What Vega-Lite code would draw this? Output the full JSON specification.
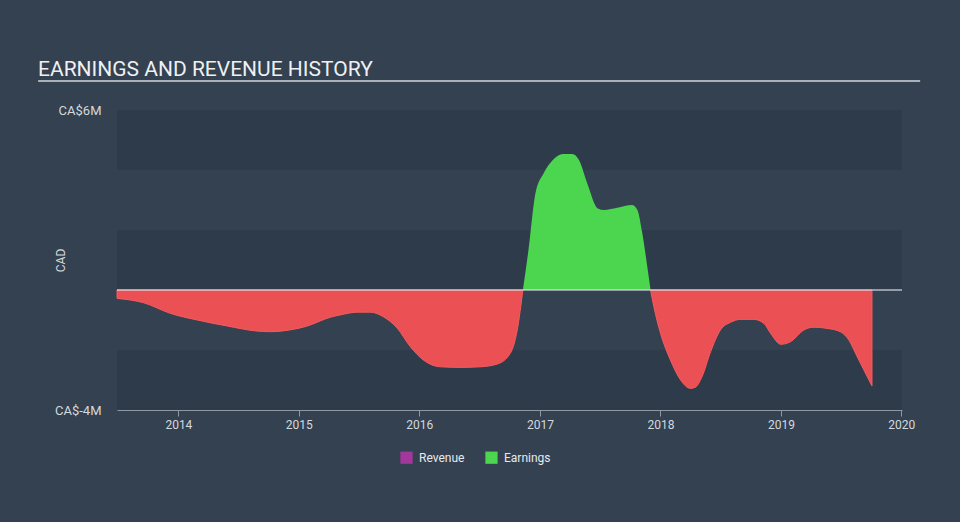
{
  "$schema": "https://vega.github.io/schema/vega-lite/v6.json",
  "width": 785,
  "height": 300,
  "autosize": {"type": "none"},
  "padding": {"left": 117, "top": 110, "right": 58, "bottom": 112},
  "background": "#334151",
  "config": {
    "view": {"stroke": null},
    "font": "Roboto",
    "axisX": {
      "format": "%Y",
      "tickCount": {"interval": "year", "step": 1},
      "labelFontSize": 12,
      "labelColor": "#d5d9dd",
      "labelPadding": 3,
      "tickColor": "#8f99a3",
      "tickSize": 6,
      "domainColor": "#8f99a3",
      "grid": false,
      "labelFlush": false
    },
    "axisY": {
      "ticks": false,
      "domain": false,
      "grid": false,
      "labelPadding": 16,
      "labelFontSize": 13,
      "labelColor": "#d5d9dd",
      "titleFontSize": 12,
      "titleFontWeight": "normal",
      "titleColor": "#d5d9dd",
      "titlePadding": -13
    }
  },
  "title": {
    "text": "EARNINGS AND REVENUE HISTORY",
    "anchor": "start",
    "frame": "group",
    "dx": -79,
    "offset": 8,
    "dy": 25,
    "baseline": "alphabetic",
    "fontSize": 21,
    "font": "Roboto",
    "fontWeight": "normal",
    "color": "#eef0f2"
  },
  "datasets": {
    "bands": [
      {"value": 6, "value2": 4},
      {"value": 2, "value2": 0},
      {"value": -2, "value2": -4}
    ],
    "loss": [
      {"date": "2013-06-29", "value": -0.28, "segment": "a"},
      {"date": "2013-09-16", "value": -0.42, "segment": "a"},
      {"date": "2013-12-08", "value": -0.78, "segment": "a"},
      {"date": "2014-02-27", "value": -1.0, "segment": "a"},
      {"date": "2014-05-29", "value": -1.2, "segment": "a"},
      {"date": "2014-08-28", "value": -1.37, "segment": "a"},
      {"date": "2014-10-06", "value": -1.39, "segment": "a"},
      {"date": "2014-12-05", "value": -1.33, "segment": "a"},
      {"date": "2015-02-04", "value": -1.17, "segment": "a"},
      {"date": "2015-03-07", "value": -1.03, "segment": "a"},
      {"date": "2015-04-06", "value": -0.91, "segment": "a"},
      {"date": "2015-05-07", "value": -0.83, "segment": "a"},
      {"date": "2015-06-27", "value": -0.74, "segment": "a"},
      {"date": "2015-08-06", "value": -0.74, "segment": "a"},
      {"date": "2015-09-14", "value": -0.89, "segment": "a"},
      {"date": "2015-10-26", "value": -1.27, "segment": "a"},
      {"date": "2015-12-05", "value": -1.89, "segment": "a"},
      {"date": "2016-01-13", "value": -2.33, "segment": "a"},
      {"date": "2016-03-05", "value": -2.56, "segment": "a"},
      {"date": "2016-05-04", "value": -2.58, "segment": "a"},
      {"date": "2016-07-04", "value": -2.56, "segment": "a"},
      {"date": "2016-08-24", "value": -2.47, "segment": "a"},
      {"date": "2016-10-03", "value": -2.11, "segment": "a"},
      {"date": "2016-10-24", "value": -1.33, "segment": "a"},
      {"date": "2016-11-10", "value": 0, "segment": "a"},
      {"date": "2017-12-02", "value": 0, "segment": "c"},
      {"date": "2017-12-12", "value": -0.56, "segment": "c"},
      {"date": "2018-01-01", "value": -1.44, "segment": "c"},
      {"date": "2018-01-31", "value": -2.33, "segment": "c"},
      {"date": "2018-03-03", "value": -3.0, "segment": "c"},
      {"date": "2018-04-02", "value": -3.28, "segment": "c"},
      {"date": "2018-04-17", "value": -3.24, "segment": "c"},
      {"date": "2018-05-07", "value": -2.89, "segment": "c"},
      {"date": "2018-06-02", "value": -2.06, "segment": "c"},
      {"date": "2018-07-02", "value": -1.33, "segment": "c"},
      {"date": "2018-08-01", "value": -1.08, "segment": "c"},
      {"date": "2018-09-01", "value": -0.98, "segment": "c"},
      {"date": "2018-10-11", "value": -0.98, "segment": "c"},
      {"date": "2018-11-11", "value": -1.12, "segment": "c"},
      {"date": "2018-12-01", "value": -1.45, "segment": "c"},
      {"date": "2019-01-01", "value": -1.81, "segment": "c"},
      {"date": "2019-01-31", "value": -1.72, "segment": "c"},
      {"date": "2019-03-12", "value": -1.33, "segment": "c"},
      {"date": "2019-04-11", "value": -1.24, "segment": "c"},
      {"date": "2019-05-21", "value": -1.28, "segment": "c"},
      {"date": "2019-06-30", "value": -1.39, "segment": "c"},
      {"date": "2019-07-26", "value": -1.67, "segment": "c"},
      {"date": "2019-08-20", "value": -2.22, "segment": "c"},
      {"date": "2019-10-04", "value": -3.2, "segment": "c"}
    ],
    "profit": [
      {"date": "2016-11-10", "value": 0, "series": "Earnings"},
      {"date": "2016-11-27", "value": 1.33, "series": "Earnings"},
      {"date": "2016-12-18", "value": 3.22, "series": "Earnings"},
      {"date": "2017-01-12", "value": 3.89, "series": "Earnings"},
      {"date": "2017-02-11", "value": 4.36, "series": "Earnings"},
      {"date": "2017-03-14", "value": 4.53, "series": "Earnings"},
      {"date": "2017-04-09", "value": 4.53, "series": "Earnings"},
      {"date": "2017-04-29", "value": 4.33, "series": "Earnings"},
      {"date": "2017-05-24", "value": 3.56, "series": "Earnings"},
      {"date": "2017-06-25", "value": 2.72, "series": "Earnings"},
      {"date": "2017-07-14", "value": 2.67, "series": "Earnings"},
      {"date": "2017-08-23", "value": 2.74, "series": "Earnings"},
      {"date": "2017-10-07", "value": 2.83, "series": "Earnings"},
      {"date": "2017-10-23", "value": 2.67, "series": "Earnings"},
      {"date": "2017-11-07", "value": 1.89, "series": "Earnings"},
      {"date": "2017-11-22", "value": 0.78, "series": "Earnings"},
      {"date": "2017-12-02", "value": 0, "series": "Earnings"}
    ]
  },
  "layer": [
    {
      "data": {"name": "bands"},
      "mark": {"type": "rect", "color": "#2e3b4b"},
      "encoding": {
        "y": {
          "field": "value",
          "type": "quantitative",
          "scale": {"domain": [-4, 6], "nice": false, "zero": false},
          "title": "CAD",
          "axis": {"values": [-4, 6], "labelExpr": "'CA$' + datum.value + 'M'"}
        },
        "y2": {"field": "value2"}
      }
    },
    {
      "data": {"name": "loss"},
      "mark": {"type": "area", "interpolate": "monotone", "color": "#eb5054", "stroke": "#f55a5d", "strokeWidth": 1},
      "encoding": {
        "x": {"field": "date", "type": "temporal", "title": null, "scale": {"domain": [{"year": 2013, "month": 6, "date": 29}, {"year": 2020, "month": 1, "date": 3}]}},
        "y": {"field": "value", "type": "quantitative", "title": "CAD"},
        "y2": {"datum": 0},
        "detail": {"field": "segment"}
      }
    },
    {
      "data": {"name": "profit"},
      "mark": {"type": "area", "interpolate": "monotone", "opacity": 1, "strokeWidth": 1},
      "encoding": {
        "x": {"field": "date", "type": "temporal", "title": null},
        "y": {"field": "value", "type": "quantitative", "title": "CAD"},
        "y2": {"datum": 0},
        "color": {
          "field": "series",
          "type": "nominal",
          "scale": {"domain": ["Revenue", "Earnings"], "range": ["#a3389c", "#4cd54f"]},
          "legend": {
            "orient": "none",
            "legendX": 283,
            "legendY": 341,
            "direction": "horizontal",
            "title": null,
            "symbolType": "square",
            "symbolSize": 150,
            "symbolOpacity": 1,
            "symbolStrokeWidth": 0,
            "labelFontSize": 12,
            "labelColor": "#e6e9ec",
            "labelOffset": 6,
            "columnPadding": 20,
            "padding": 0
          }
        }
      }
    },
    {
      "data": {"values": [{}]},
      "mark": {"type": "rule", "color": "#e4e7ea", "strokeWidth": 1.5, "opacity": 0.75},
      "encoding": {"y": {"datum": 0}}
    },
    {
      "data": {"values": [{}]},
      "mark": {"type": "rule", "color": "#aab1b8", "strokeWidth": 2, "clip": false},
      "encoding": {
        "x": {"datum": 1351814400000, "type": "temporal"},
        "x2": {"datum": 1582761600000},
        "y": {"datum": 6.967}
      }
    }
  ]
}
